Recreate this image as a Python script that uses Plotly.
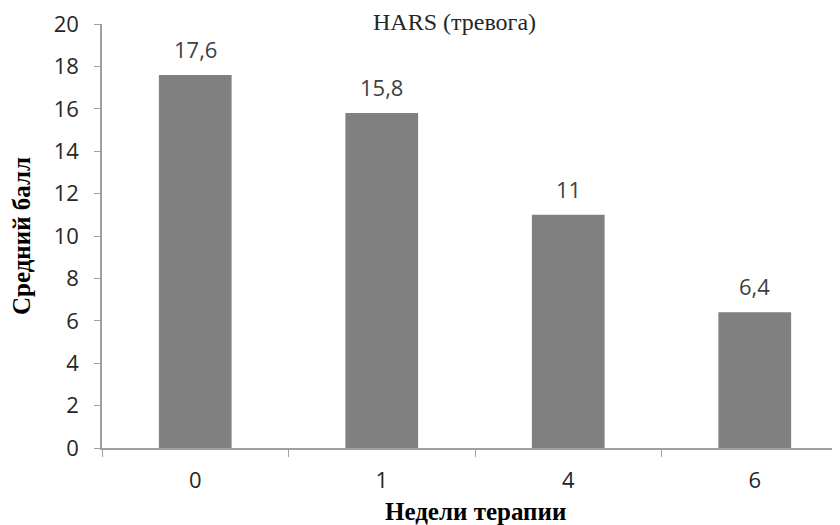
import plotly.graph_objects as go

categories = ["0", "1", "4", "6"]
values = [17.6, 15.8, 11, 6.4]
y_ticks = [0, 2, 4, 6, 8, 10, 12, 14, 16, 18, 20]

title_text = "HARS (тревога)"
x_title = "Недели терапии"
y_title = "Средний балл"

sans = "Open Sans, Calibri, sans-serif"
serif = "Liberation Serif, Times New Roman, serif"

fig = go.Figure()
fig.add_trace(go.Bar(
    x=categories, y=values,
    marker=dict(color="#808080", line=dict(width=0)),
    width=0.39,
    hoverinfo="skip",
))

for i, v in enumerate(values):
    fig.add_annotation(
        x=i, y=v, xref="x", yref="y",
        text=f"{v:g}".replace(".", ","),
        showarrow=False, yshift=26,
        font=dict(family=sans, size=22, color="#404040"),
    )

fig.add_annotation(x=0.473, y=1.0, xref="paper", yref="paper",
                   text=title_text, showarrow=False, yanchor="middle", yshift=2,
                   font=dict(family=serif, size=24, color="#262626"))

fig.add_annotation(x=0.5, y=0, xref="paper", yref="paper",
                   text="<b>" + x_title + "</b>", showarrow=False,
                   yanchor="middle", yshift=-63,
                   font=dict(family=serif, size=25, color="#000000"))

fig.add_annotation(x=0, y=0.5, xref="paper", yref="paper",
                   text="<b>" + y_title + "</b>", showarrow=False, textangle=-90,
                   xanchor="center", xshift=-81,
                   font=dict(family=serif, size=25, color="#000000"))

fig.update_layout(
    width=840, height=525,
    margin=dict(l=94, r=0, t=16, b=85, autoexpand=False),
    paper_bgcolor="white", plot_bgcolor="white",
    showlegend=False,
    xaxis=dict(
        type="category",
        range=[-0.5, 3.5],
        automargin=False,
        showgrid=False,
        showline=True, linecolor="#a0a0a0", linewidth=1.5,
        ticks="outside", tickson="boundaries", ticklen=7, tickcolor="#a0a0a0",
        tickfont=dict(family=sans, size=22, color="#262626"),
        ticklabelstandoff=12,
    ),
    yaxis=dict(
        range=[0, 20.0001],
        tickvals=y_ticks,
        automargin=False,
        showgrid=False, zeroline=False,
        showline=True, linecolor="#a0a0a0", linewidth=1.5,
        ticks="outside", ticklen=6, tickcolor="#a0a0a0",
        tickfont=dict(family=sans, size=22, color="#262626"),
        ticklabelstandoff=11,
        ticklabeloverflow="allow",
    ),
)

fig.write_html("out.html")
